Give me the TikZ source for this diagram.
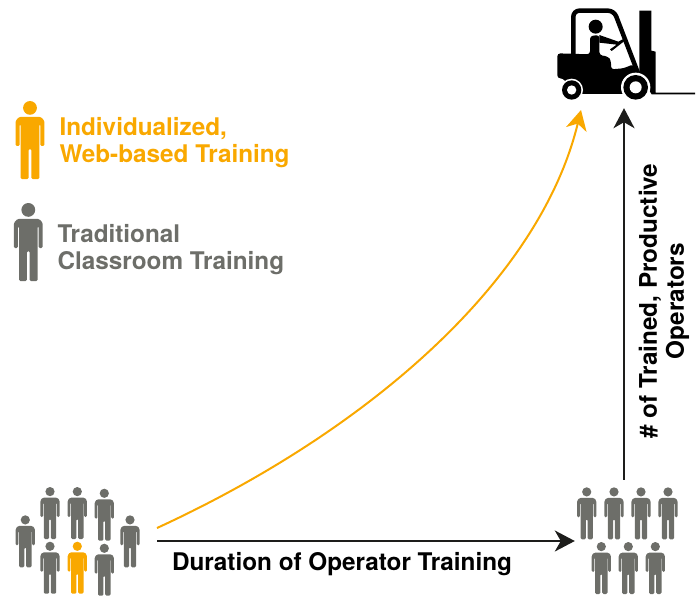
\documentclass[tikz,border=0pt]{standalone}
\usepackage{fontspec}
\setmainfont{TeX Gyre Heros}
\usetikzlibrary{arrows.meta}
\definecolor{webor}{HTML}{F9A800}
\definecolor{classgr}{HTML}{6D6E69}
\definecolor{arrblk}{HTML}{1D1D1B}
\tikzset{
  font={\fontsize{24.3pt}{27pt}\selectfont\bfseries},
  person/.pic={
    \fill[pic actions] (0,4.6) circle (4.6);
    \fill[pic actions,rounded corners=1.3] (-9.6,30) -- (-9.6,13.2) -- (-7.2,10.6) -- (7.2,10.6) -- (9.6,13.2) -- (9.6,30) -- (6.9,30) -- (6.9,15.5) -- (6.2,15.5) -- (6.2,52) -- (0.9,52) -- (0.9,32) -- (-0.9,32) -- (-0.9,52) -- (-6.2,52) -- (-6.2,15.5) -- (-6.9,15.5) -- (-6.9,30) -- cycle;
  },
  group/.style={inner sep=0pt},
  arrowline/.style={line width=2pt,-{Stealth[length=20pt,width=21pt,inset=6pt]}},
}
\begin{document}
\begin{tikzpicture}[x=1pt,y=-1pt]
\useasboundingbox (0,0) rectangle (700,596);
\pic[classgr] at (25.3,515.3) {person};
\pic[classgr] at (50,487) {person};
\pic[classgr] at (77.3,487) {person};
\pic[classgr] at (104.3,488.7) {person};
\pic[classgr] at (130,515.3) {person};
\pic[classgr] at (50,541.7) {person};
\pic[webor] at (77.3,541.7) {person};
\pic[classgr] at (104.3,543.7) {person};
\foreach \px in {586.7,614,641,668}
  \pic[classgr] at (\px,487.3) {person};
\foreach \px in {601.3,628.3,655.3}
  \pic[classgr] at (\px,542) {person};
\pic[webor,scale=1.5] at (30,101) {person};
\pic[classgr,scale=1.5] at (28.3,203) {person};
\node[webor,anchor=west,align=left] (webtxt) at (56,142.5) {Individualized,\\Web-based Training};
\node[classgr,anchor=west,align=left] (classtxt) at (54,249.5) {Traditional\\Classroom Training};
\node[anchor=base] (durtxt) at (342,570) {Duration of Operator Training};
\node[rotate=90,align=center] (optxt) at (664,301) {\# of Trained, Productive\\Operators};
\begin{scope}[shift={(540,0)},scale=1/3]
\draw[line width=4.5pt,line join=round,rounded corners=6pt] (100,165) -- (100,32) -- (222,32) -- (295,222);
\fill (298,32) -- (334,32) -- (334,152) -- (347,155) -- (347,278) -- (465,278) -- (465,283) -- (335,283) -- (298,225) -- cycle;
\fill[rounded corners=3pt] (52,235) -- (52,160) -- (150,163) -- (150,108) -- (178,105) -- (178,165) -- (205,170) -- (213,182) -- (213,208) -- (250,205) -- (280,193) -- (300,225) -- (270,282) -- (100,282) -- (70,235) -- cycle;
\fill (167,80) circle (21);
\fill (178,105) -- (235,125) -- (248,118) -- (252,124) -- (215,153) -- (210,148) -- (230,134) -- (178,128) -- cycle;
\fill[white] (95,270) circle (34);
\fill (95,270) circle (29);
\fill[white] (95,270) circle (14);
\fill[white] (287,262) circle (44);
\fill (287,262) circle (37);
\fill[white] (287,262) circle (18);
\end{scope}
\node[group,minimum width=142pt,minimum height=108pt] (crowd) at (86,541) {};
\node[group,minimum width=106pt,minimum height=122pt] (team) at (628,541) {};
\node[group,minimum width=142pt,minimum height=100pt] (lift) at (624,58) {};
\coordinate (crowdtop) at (157,528);
\coordinate (lifttip) at (581,110);
\draw[arrowline,arrblk] (crowd.east) -- (team.west);
\draw[arrowline,arrblk] (team.north -| lift.south) -- (lift.south);
\draw[arrowline,webor] (crowdtop) .. controls (370,430) and (540,280) .. (lifttip);
\end{tikzpicture}
\end{document}
